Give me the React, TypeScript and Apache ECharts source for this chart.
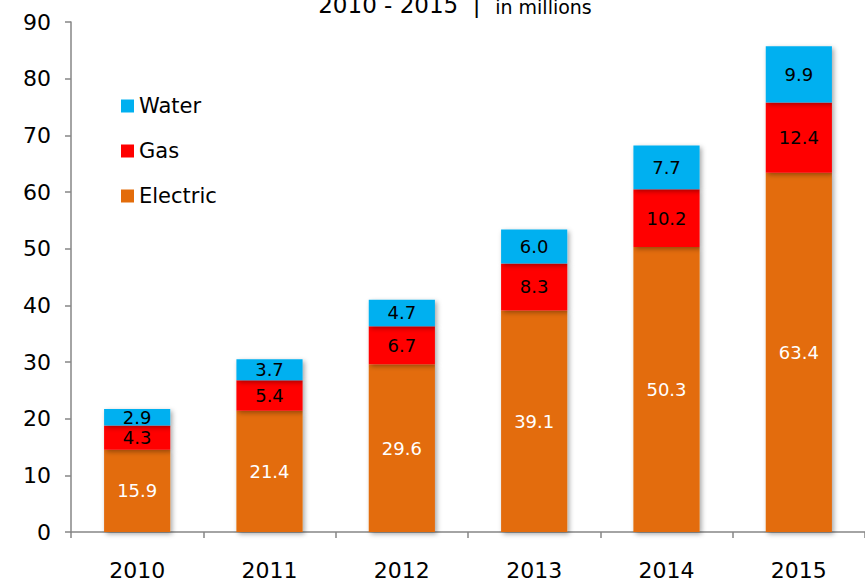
import React, { useEffect, useRef } from "react";
import * as echarts from "echarts";

const years = ["2010", "2011", "2012", "2013", "2014", "2015"];
const electric = [14.5, 21.4, 29.6, 39.1, 50.3, 63.4];
const electricLabels = ["15.9", "21.4", "29.6", "39.1", "50.3", "63.4"];
const gas = [4.3, 5.4, 6.7, 8.3, 10.2, 12.4];
const water = [2.9, 3.7, 4.7, 6.0, 7.7, 9.9];

const FONT = "'DejaVu Sans', sans-serif";
const shadow = {
  shadowBlur: 5,
  shadowOffsetX: 2,
  shadowOffsetY: 2,
  shadowColor: "rgba(0,0,0,0.35)",
};

export default function App() {
  const ref = useRef<HTMLDivElement>(null);
  useEffect(() => {
    if (!ref.current) return;
    const chart = echarts.init(ref.current, undefined, { renderer: "svg" });
    const labelBase = {
      show: true,
      position: "inside",
      fontFamily: FONT,
      fontSize: 18,
    };
    chart.setOption({
      animation: false,
      graphic: [
        {
          type: "text",
          x: 455,
          y: 16,
          style: {
            text: "{a|2010 - 2015  |  }{b|in millions}",
            textAlign: "center",
            textVerticalAlign: "bottom",
            rich: {
              a: { fontFamily: FONT, fontSize: 23, fill: "#000", verticalAlign: "bottom" },
              b: { fontFamily: FONT, fontSize: 19, fill: "#000", verticalAlign: "bottom" },
            },
          },
        },
      ],
      legend: {
        orient: "vertical",
        left: 116,
        top: 89,
        itemWidth: 13,
        itemHeight: 13,
        itemGap: 21,
        icon: "rect",
        data: ["Water", "Gas", "Electric"],
        textStyle: { fontFamily: FONT, fontSize: 21, color: "#000", lineHeight: 24 },
      },
      grid: { left: 71, top: 22, width: 808, height: 510, containLabel: false },
      xAxis: {
        type: "category",
        data: years,
        axisLine: { lineStyle: { color: "#868686", width: 1.5 } },
        axisTick: { show: true, alignWithLabel: false, length: 6, lineStyle: { color: "#868686", width: 1.5 } },
        axisLabel: { fontFamily: FONT, fontSize: 22, color: "#000", margin: 27 },
      },
      yAxis: {
        type: "value",
        min: 0,
        max: 90,
        interval: 10,
        splitLine: { show: false },
        axisLine: { show: true, lineStyle: { color: "#868686", width: 1.5 } },
        axisTick: { show: true, length: 6, lineStyle: { color: "#868686", width: 1.5 } },
        axisLabel: { fontFamily: FONT, fontSize: 22, color: "#000", margin: 20 },
      },
      series: [
        {
          name: "Electric",
          type: "bar",
          stack: "t",
          barWidth: "50%",
          data: electric,
          itemStyle: { color: "#E36C0A", ...shadow },
          label: {
            ...labelBase,
            color: "#fff",
            formatter: (p: any) => electricLabels[p.dataIndex],
          },
        },
        {
          name: "Gas",
          type: "bar",
          stack: "t",
          data: gas,
          itemStyle: { color: "#FF0000", ...shadow },
          label: { ...labelBase, color: "#000", formatter: (p: any) => p.value.toFixed(1) },
        },
        {
          name: "Water",
          type: "bar",
          stack: "t",
          data: water,
          itemStyle: { color: "#00B0F0", ...shadow },
          label: { ...labelBase, color: "#000", formatter: (p: any) => p.value.toFixed(1) },
        },
      ],
    });
    return () => chart.dispose();
  }, []);
  return (
    <div
      ref={ref}
      style={{ position: "fixed", left: 0, top: 0, width: 865, height: 581, background: "#fff" }}
    />
  );
}
